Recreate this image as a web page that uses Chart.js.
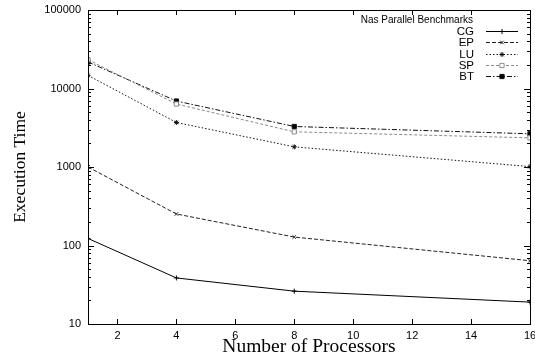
<!DOCTYPE html>
<html lang="en">
<head>
  <meta charset="UTF-8" />
  <title>Nas Parallel Benchmarks</title>
  <script src="https://cdn.jsdelivr.net/npm/chart.js"></script>
  <style>
    body { margin: 0; background: white; }
    #wrap { width: 535px; height: 362px; }
  </style>
</head>
<body>
  <div id="wrap"><canvas id="npbChart" width="535" height="362"></canvas></div>

  <script>
    const processors = [1, 4, 8, 16];
    const xTicks = [2, 4, 6, 8, 10, 12, 14, 16];
    const yDecades = [10, 100, 1000, 10000, 100000];

    const cgTimes = [123, 38.6, 26.2, 19];
    const epTimes = [1000, 252, 128, 64];
    const luTimes = [14700, 3690, 1806, 1012];
    const spTimes = [23300, 6340, 2807, 2353];
    const btTimes = [21800, 6920, 3281, 2647];

    const legendTitle = "Nas Parallel Benchmarks";

    function makeSet(label, times, color, dash, pointStyle, pointBg, radius) {
      return {
        label: label,
        data: processors.map((p, i) => ({ x: p, y: times[i] })),
        borderColor: color,
        borderWidth: 1,
        borderDash: dash,
        pointStyle: pointStyle,
        pointRadius: radius,
        pointBorderColor: color,
        pointBackgroundColor: pointBg,
        pointBorderWidth: 1,
        tension: 0,
        fill: false
      };
    }

    // inward ticks + frame, gnuplot style
    const framePlugin = {
      id: 'frame',
      afterDraw(chart) {
        const ctx = chart.ctx;
        const a = chart.chartArea;
        const xs = chart.scales.x, ys = chart.scales.y;
        ctx.save();
        ctx.strokeStyle = '#000';
        ctx.lineWidth = 1;
        ctx.strokeRect(a.left + 0.5, a.top + 0.5, a.right - a.left, a.bottom - a.top);
        ctx.beginPath();
        xTicks.forEach(v => {
          const px = Math.round(xs.getPixelForValue(v)) + 0.5;
          ctx.moveTo(px, a.bottom); ctx.lineTo(px, a.bottom - 5);
          ctx.moveTo(px, a.top); ctx.lineTo(px, a.top + 5);
        });
        ys.ticks.forEach(t => {
          const py = Math.round(ys.getPixelForValue(t.value)) + 0.5;
          const len = yDecades.includes(t.value) ? 6 : 3;
          ctx.moveTo(a.left, py); ctx.lineTo(a.left + len, py);
          ctx.moveTo(a.right, py); ctx.lineTo(a.right - len, py);
        });
        ctx.stroke();

        // legend
        const rightText = 474;
        ctx.fillStyle = '#000';
        ctx.textAlign = 'right';
        ctx.textBaseline = 'middle';
        ctx.font = '10px "Liberation Sans", Arial, sans-serif';
        ctx.fillText(legendTitle, 473, 20);
        ctx.font = '11.5px "Liberation Sans", Arial, sans-serif';
        chart.data.datasets.forEach((ds, i) => {
          const y = Math.round(31 + i * 11.3) + 0.5;
          ctx.fillStyle = '#000';
          ctx.fillText(ds.label, rightText, y);
          ctx.beginPath();
          ctx.strokeStyle = ds.borderColor;
          ctx.setLineDash(ds.borderDash);
          ctx.moveTo(486, y);
          ctx.lineTo(518, y);
          ctx.stroke();
          ctx.setLineDash([]);
          ctx.fillStyle = ds.pointBackgroundColor;
          ctx.strokeStyle = ds.pointBorderColor;
          Chart.helpers.drawPoint(ctx, {
            pointStyle: ds.pointStyle,
            radius: ds.pointRadius,
            borderWidth: 1
          }, 502, y);
        });
        ctx.restore();
      }
    };

    new Chart(document.getElementById('npbChart'), {
      type: 'line',
      data: {
        datasets: [
          makeSet('CG', cgTimes, '#000', [], 'cross', '#000', 2.5),
          makeSet('EP', epTimes, '#222', [4, 2], 'crossRot', '#222', 2.5),
          makeSet('LU', luTimes, '#111', [1.5, 2], 'star', '#111', 2.5),
          makeSet('SP', spTimes, '#8a8a8a', [3, 2], 'rect', '#fff', 3),
          makeSet('BT', btTimes, '#111', [5, 2, 1.5, 2], 'rect', '#000', 3)
        ]
      },
      options: {
        responsive: false,
        animation: false,
        layout: { padding: { left: 0, right: 4, top: 10, bottom: 0 } },
        plugins: {
          legend: { display: false },
          tooltip: { enabled: false }
        },
        scales: {
          x: {
            type: 'linear',
            min: 1,
            max: 16,
            grid: { display: false, drawTicks: false },
            border: { display: false },
            afterBuildTicks(scale) { scale.ticks = xTicks.map(v => ({ value: v })); },
            afterFit(scale) { scale.height = 38; scale.paddingLeft = 0; scale.paddingRight = 0; },
            ticks: {
              padding: 5,
              color: '#000',
              font: { family: '"Liberation Sans", Arial, sans-serif', size: 11 }
            },
            title: {
              display: true,
              text: 'Number of Processors',
              color: '#000',
              font: { family: '"Liberation Serif", "Times New Roman", serif', size: 19.5, lineHeight: 1.2 },
              padding: { top: 0, bottom: 3 }
            }
          },
          y: {
            type: 'logarithmic',
            min: 10,
            max: 100000,
            grid: { display: false, drawTicks: false },
            border: { display: false },
            afterBuildTicks(scale) {
              const t = [];
              for (let d = 0; d < yDecades.length - 1; d++) {
                for (let m = 1; m < 10; m++) t.push({ value: yDecades[d] * m });
              }
              t.push({ value: yDecades[yDecades.length - 1] });
              scale.ticks = t;
            },
            afterFit(scale) { scale.width = 88; scale.paddingTop = 0; scale.paddingBottom = 0; },
            ticks: {
              padding: 7,
              color: '#000',
              autoSkip: false,
              font: { family: '"Liberation Sans", Arial, sans-serif', size: 11 },
              callback: v => yDecades.includes(v) ? String(v) : ''
            },
            title: {
              display: true,
              text: 'Execution Time',
              color: '#000',
              font: { family: '"Liberation Serif", "Times New Roman", serif', size: 17.5 },
              padding: { top: 10, bottom: 0 }
            }
          }
        }
      },
      plugins: [framePlugin]
    });
  </script>
</body>
</html>
